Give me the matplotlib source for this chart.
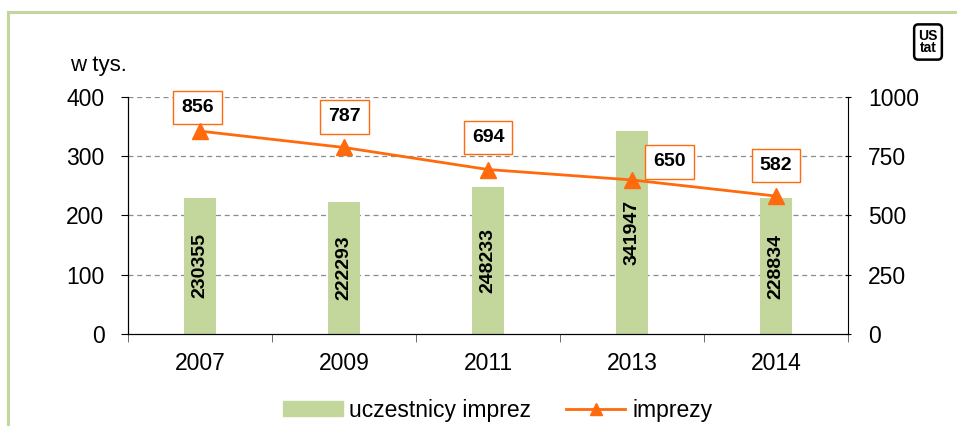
import numpy as np
import matplotlib.pyplot as plt
from matplotlib.lines import Line2D

plt.rcParams['font.family'] = ['Liberation Sans', 'DejaVu Sans']

years = ['2007', '2009', '2011', '2013', '2014']
uczestnicy = [230355, 222293, 248233, 341947, 228834]
imprezy = [856, 787, 694, 650, 582]
# label offsets (points) for the event labels
label_offsets = [(-2, 17), (0, 22), (0, 23), (27, 13), (0, 22)]

BAR_COLOR = '#C3D69B'
LINE_COLOR = '#FF6A0D'

fig = plt.figure(figsize=(9.57, 4.26), dpi=100)
ax = fig.add_axes([0.1338, 0.216, 0.7523, 0.5563])
x = np.arange(len(years))

vals = np.array(uczestnicy) / 1000.0
ax.bar(x, vals, width=0.22, color=BAR_COLOR, zorder=2)
for xi, v, raw in zip(x, vals, uczestnicy):
    ax.text(xi, v / 2, str(raw), rotation=90, ha='center', va='center',
            fontsize=14, fontweight='bold', zorder=3)

ax.set_xlim(-0.5, len(years) - 0.5)
ax.set_ylim(0, 400)
ax.set_yticks([0, 100, 200, 300, 400])
ax.set_xticks(x)
ax.set_xticklabels(years)
ax.set_xticks(np.arange(-0.5, len(years)), minor=True)
ax.tick_params(axis='x', which='major', length=0, pad=13, labelsize=16.5)
ax.tick_params(axis='x', which='minor', length=6, color='#555555', direction='out')
ax.tick_params(axis='y', length=5, pad=12, labelsize=16.5)
for yv in [100, 200, 300, 400]:
    ax.axhline(yv, color='#8c8c8c', lw=0.9, ls=(0, (4, 3)), zorder=1)
ax.spines['top'].set_visible(False)
ax.spines['right'].set_visible(False)

ax2 = ax.twinx()
ax2.set_ylim(0, 1000)
ax2.set_yticks([0, 250, 500, 750, 1000])
ax2.tick_params(axis='y', length=5, direction='inout', pad=12, labelsize=16.5)
ax2.spines['top'].set_visible(False)
ax2.plot(x, imprezy, color=LINE_COLOR, lw=2, marker='^', markersize=11, zorder=4)
for xi, v, off in zip(x, imprezy, label_offsets):
    ax2.annotate(str(v), (xi, v), xytext=off, textcoords='offset points',
                 ha='center', va='center', fontsize=14, fontweight='bold',
                 bbox=dict(boxstyle='square,pad=0.42', fc='white', ec=LINE_COLOR, lw=1))

fig.text(70 / 957, 1 - 65 / 426, 'w tys.', fontsize=16, ha='left', va='center')

# frame lines
fig.add_artist(Line2D([8 / 957, 8 / 957], [0, 1 - 12 / 426], color=BAR_COLOR, lw=2.2))
fig.add_artist(Line2D([8 / 957, 1], [1 - 12 / 426, 1 - 12 / 426], color=BAR_COLOR, lw=2.2))

# logo
fig.text(928 / 957, 1 - 42 / 426, 'US\ntat', fontsize=10, fontweight='bold',
         ha='center', va='center', linespacing=0.9,
         bbox=dict(boxstyle='round,pad=0.3', fc='white', ec='black', lw=1.8))

handles = [plt.Rectangle((0, 0), 1, 1, color=BAR_COLOR),
           Line2D([], [], color=LINE_COLOR, lw=2, marker='^', markersize=9)]
fig.legend(handles, ['uczestnicy imprez', 'imprezy'], loc='center',
           bbox_to_anchor=(0.52, 1 - 410 / 426), ncol=2, frameon=False,
           fontsize=16.5, handlelength=2.6, handleheight=0.6, columnspacing=1.5,
           handletextpad=0.3)

fig.savefig('out.png', dpi=100)
